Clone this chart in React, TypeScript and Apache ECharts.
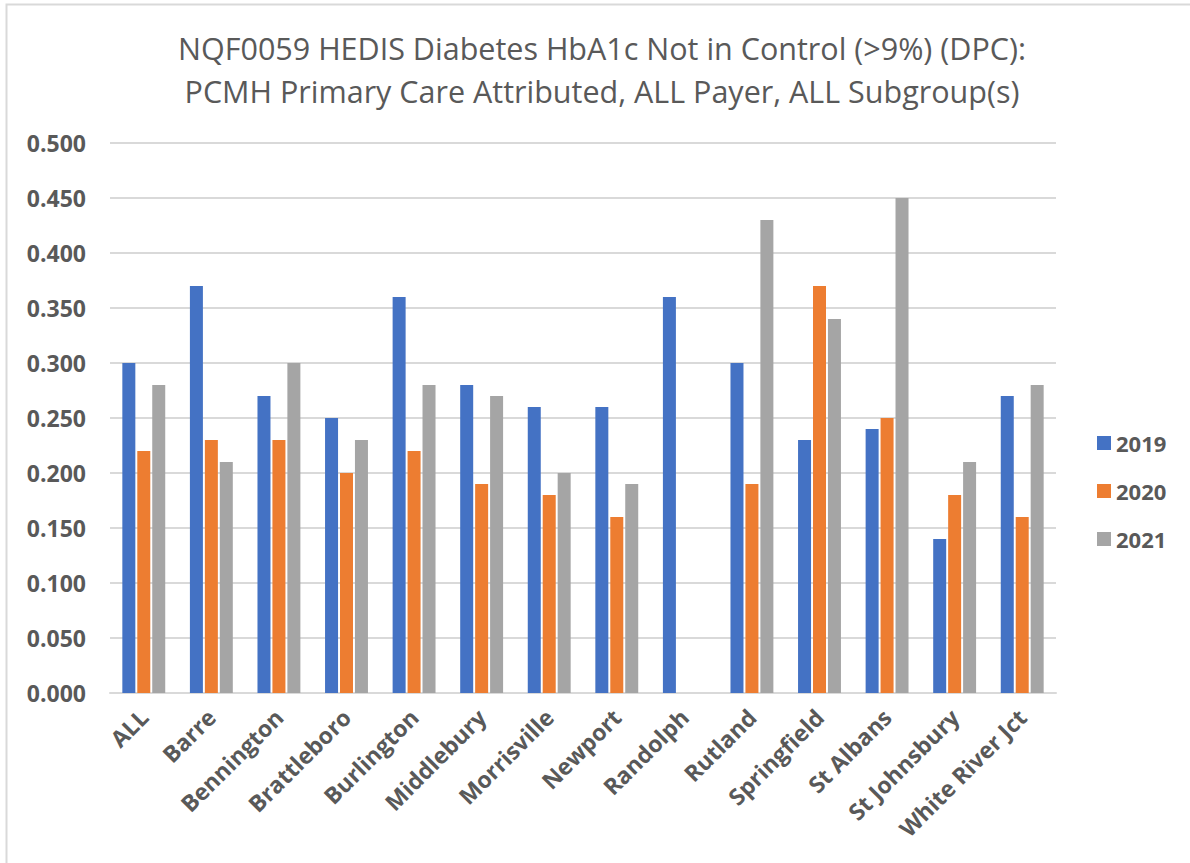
import React, { useEffect, useRef } from "react";
import * as echarts from "echarts";

const categories = [
  "ALL", "Barre", "Bennington", "Brattleboro", "Burlington", "Middlebury",
  "Morrisville", "Newport", "Randolph", "Rutland", "Springfield", "St Albans",
  "St Johnsbury", "White River Jct",
];
const values2019 = [0.30, 0.37, 0.27, 0.25, 0.36, 0.28, 0.26, 0.26, 0.36, 0.30, 0.23, 0.24, 0.14, 0.27];
const values2020 = [0.22, 0.23, 0.23, 0.20, 0.22, 0.19, 0.18, 0.16, null, 0.19, 0.37, 0.25, 0.18, 0.16];
const values2021 = [0.28, 0.21, 0.30, 0.23, 0.28, 0.27, 0.20, 0.19, null, 0.43, 0.34, 0.45, 0.21, 0.28];
const seriesNames = ["2019", "2020", "2021"];
const colors = ["#4472C4", "#ED7D31", "#A5A5A5"];
const titleLines = [
  "NQF0059 HEDIS Diabetes HbA1c Not in Control (>9%) (DPC):",
  "PCMH Primary Care Attributed, ALL Payer, ALL Subgroup(s)",
];

const TEXT = "#595959";
const FONT = "'Open Sans', 'Noto Sans', sans-serif";

export default function App() {
  const ref = useRef<HTMLDivElement>(null);
  useEffect(() => {
    if (!ref.current) return;
    const chart = echarts.init(ref.current, null, { renderer: "svg" });
    const data = [values2019, values2020, values2021];
    chart.setOption({
      animation: false,
      backgroundColor: "#ffffff",
      color: colors,
      title: {
        text: titleLines.join("\n"),
        left: 597,
        textAlign: "center",
        top: 21,
        textStyle: {
          fontFamily: FONT,
          fontWeight: "normal",
          fontSize: 30.5,
          lineHeight: 43,
          color: TEXT,
        },
      },
      graphic: [
        {
          type: "rect",
          shape: { x: 6.5, y: 4.5, width: 1250, height: 950 },
          style: { fill: "none", stroke: "#d9d9d9", lineWidth: 2 },
          silent: true,
        },
      ],
      legend: {
        orient: "vertical",
        left: 1092,
        top: 427,
        itemWidth: 14,
        itemHeight: 14,
        itemGap: 26,
        icon: "rect",
        textStyle: { fontFamily: FONT, fontWeight: "bold", fontSize: 22, color: TEXT },
        data: seriesNames,
      },
      grid: { left: 110, right: 134, top: 143, bottom: 170 },
      xAxis: {
        type: "category",
        data: categories,
        axisLine: { lineStyle: { color: "#d9d9d9", width: 2 } },
        axisTick: { show: false },
        axisLabel: {
          rotate: 45,
          interval: 0,
          margin: 20,
          fontFamily: FONT,
          fontWeight: "bold",
          fontSize: 23,
          color: TEXT,
        },
      },
      yAxis: {
        type: "value",
        min: 0,
        max: 0.5,
        interval: 0.05,
        axisLine: { show: false },
        axisTick: { show: false },
        splitLine: { lineStyle: { color: "#d9d9d9", width: 2 } },
        axisLabel: {
          formatter: (v: number) => v.toFixed(3),
          margin: 24,
          fontFamily: FONT,
          fontWeight: "bold",
          fontSize: 23,
          color: TEXT,
        },
      },
      series: seriesNames.map((name, i) => ({
        name,
        type: "bar",
        data: data[i],
        barWidth: 13,
        barGap: "15%",
      })),
    });
    return () => chart.dispose();
  }, []);
  return (
    <div
      ref={ref}
      style={{ position: "absolute", left: 0, top: 0, width: 1190, height: 863 }}
    />
  );
}
